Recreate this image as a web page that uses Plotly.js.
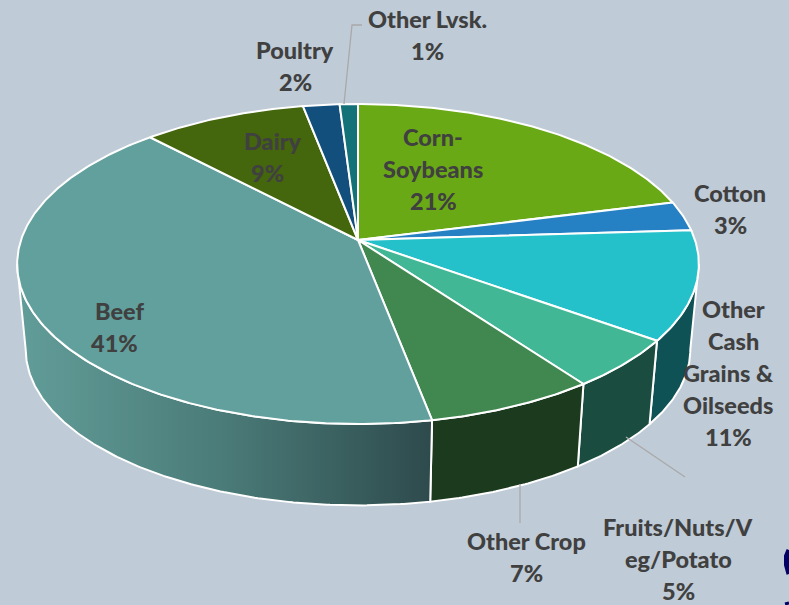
<!DOCTYPE html>
<html>
<head>
<meta charset="utf-8">
<script src="https://cdn.plot.ly/plotly-3.0.1.min.js"></script>
<style>html,body{margin:0;padding:0;background:#bfcbd6;overflow:hidden}</style>
</head>
<body>
<div id="chart" style="width:789px;height:605px"></div>
<script>
// Farm revenue share by commodity, drawn clockwise from twelve o'clock.
const categories = ['Corn-Soybeans', 'Cotton', 'Other Cash Grains & Oilseeds', 'Fruits/Nuts/Veg/Potato',
                    'Other Crop', 'Beef', 'Dairy', 'Poultry', 'Other Lvsk.'];
const shares = [21, 3, 11, 5, 7, 41, 9, 2, 1];
const topColors = ['#6aa916', '#2581c4', '#25c1cb', '#42b795', '#408850', '#62a09e', '#44660d', '#134f7c', '#137178'];
const sideColors = ['#4a7610', '#1a5a89', '#0f5255', '#1a4d40', '#1b3a1e', '#2e4a4c', '#2f470a', '#0d3756', '#0d4f54'];

// Label text, one entry per drawn line, with the block's centre x and first-line y.
const labelLines = [
  ['Corn-', 'Soybeans', '21%'], ['Cotton', '3%'], ['Other', 'Cash', 'Grains &', 'Oilseeds', '11%'],
  ['Fruits/Nuts/V', 'eg/Potato', '5%'], ['Other Crop', '7%'], ['Beef', '41%'], ['Dairy', '9%'], ['Poultry', '2%'], ['Other Lvsk.', '1%']
];
const labelX = [433, 730, 733, 678, 526, 119, 273, 295, 427];
const labelX2 = [null, null, [733, 733, 728, 728, 728], null, null, [119, 114], [273, 267], null, null];
const labelY = [137, 193, 309, 527, 541, 311, 141, 50, 19];
const linePitch = 32;

// Projection of the tilted disc: a unit-circle point maps to pixels about the apex.
const apexX = 358, apexY = 240, spanX = 337, spanY = 156.4, tilt = 0.15;
const baseScale = 0.975, baseApexY = 326;
const project = (deg, scale, oy) => {
  const r = deg * Math.PI / 180, u = Math.sin(r), v = Math.cos(r), w = 1 + tilt * v;
  return [apexX + scale * spanX * u / w, oy - scale * spanY * v / w];
};
const arc = (a, b, scale, oy) => {
  const n = Math.max(2, Math.ceil(Math.abs(b - a) * 2)), pts = [];
  for (let i = 0; i <= n; i++) pts.push(project(a + (b - a) * i / n, scale, oy));
  return pts;
};

const traces = [];
const wedge = (pts, color, extra) => traces.push(Object.assign({
  x: pts.map(p => p[0]), y: pts.map(p => p[1]), mode: 'lines', fill: 'toself', fillcolor: color,
  line: {color: '#ffffff', width: 2}, hoverinfo: 'skip', showlegend: false
}, extra || {}));

// Only the front of the wall is visible: between the two silhouette tangents.
const tangent = Math.acos(-tilt) * 180 / Math.PI, wallStart = tangent, wallEnd = 360 - tangent;
const edges = [0];
shares.forEach(s => edges.push(edges[edges.length - 1] + s * 3.6));

shares.forEach((s, i) => {
  const a = Math.max(edges[i], wallStart), b = Math.min(edges[i + 1], wallEnd);
  if (b <= a) return;
  const pts = arc(a, b, 1, apexY).concat(arc(b, a, baseScale, baseApexY));
  pts.push(pts[0]);
  const extra = categories[i] === 'Beef'
    ? {fillgradient: {type: 'horizontal', colorscale: [[0, '#629d99'], [0.5, '#4a7b78'], [1, sideColors[i]]]}}
    : {};
  wedge(pts, sideColors[i], extra);
});

shares.forEach((s, i) => {
  const pts = [[apexX, apexY]].concat(arc(edges[i], edges[i + 1], 1, apexY));
  pts.push([apexX, apexY]);
  wedge(pts, topColors[i]);
});

// Leader lines for the outside labels.
const leaders = [
  {x: [344, 352, 362], y: [104, 25, 25]},
  {x: [520, 520], y: [484, 523]},
  {x: [626, 685], y: [437, 477]}
];
leaders.forEach(l => traces.push({x: l.x, y: l.y, mode: 'lines', line: {color: '#a9a9a9', width: 1.3},
  hoverinfo: 'skip', showlegend: false}));

// Sliver of a navy logo at the page's lower right corner.
traces.push({x: [789, 786.5, 786.5, 789], y: [550, 556, 565, 574], mode: 'lines',
  line: {color: '#000066', width: 5}, hoverinfo: 'skip', showlegend: false});
traces.push({x: [785, 789], y: [604, 603], mode: 'lines',
  line: {color: '#000066', width: 3}, hoverinfo: 'skip', showlegend: false});

const annotations = [];
labelLines.forEach((lines, i) => lines.forEach((text, j) => annotations.push({
  x: labelX2[i] ? labelX2[i][j] : labelX[i], y: labelY[i] + j * linePitch, xref: 'x', yref: 'y',
  text, showarrow: false, xanchor: 'center', yanchor: 'middle',
  font: {family: 'Lato, sans-serif', size: 23.5, color: '#404040', weight: 900}
})));

Plotly.newPlot('chart', traces, {
  width: 789, height: 605, margin: {l: 0, r: 0, t: 0, b: 0},
  paper_bgcolor: '#bfcbd6', plot_bgcolor: '#bfcbd6', showlegend: false,
  xaxis: {range: [0, 789], visible: false, fixedrange: true},
  yaxis: {range: [605, 0], visible: false, fixedrange: true},
  annotations
}, {displayModeBar: false, staticPlot: true});
</script>
</body>
</html>
